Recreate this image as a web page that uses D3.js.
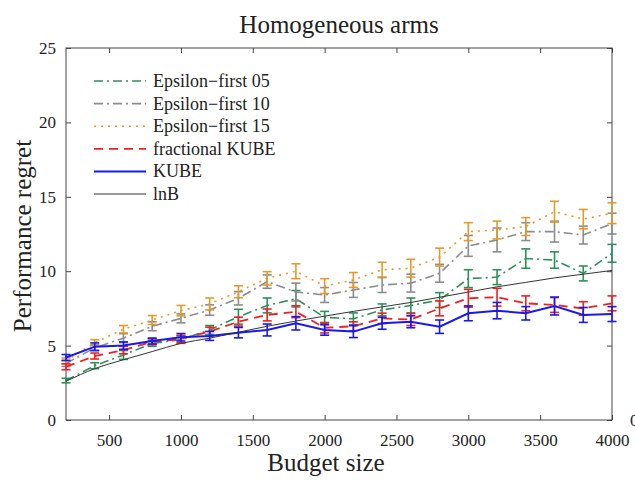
<!DOCTYPE html>
<html><head><meta charset="utf-8">
<script src="https://cdn.jsdelivr.net/npm/d3@7/dist/d3.min.js"></script>
<style>body{margin:0;background:#fff;overflow:hidden}svg{display:block}</style>
</head><body>
<svg id="chart" width="635" height="483"></svg>
<script>
const budget = [200,400,600,800,1000,1200,1400,1600,1800,2000,2200,2400,2600,2800,3000,3200,3400,3600,3800,4000];
const eps05 = [2.65,3.65,4.37,5.15,5.4,6.05,6.94,7.7,8.15,6.9,6.8,7.4,7.7,8.06,9.5,9.6,10.85,10.75,9.85,11.2];
const eps10 = [3.8,4.85,5.5,6.3,6.83,7.39,8.18,9.3,8.6,8.4,8.74,9.07,9.2,9.86,11.7,12.1,12.66,12.66,12.43,13.2];
const eps15 = [3.97,5.2,6.1,6.72,7.35,7.8,8.62,9.52,10.0,9.0,9.41,10.1,10.2,10.95,12.66,12.77,13.0,14.0,13.5,13.9];
const fracKube = [3.58,4.3,4.7,5.26,5.44,5.94,6.61,7.06,7.28,6.2,6.3,6.83,6.75,7.5,8.18,8.25,7.84,7.73,7.5,7.84];
const kube = [4.2,4.93,5.0,5.31,5.56,5.65,5.87,6.05,6.5,6.05,5.94,6.5,6.6,6.27,7.17,7.35,7.17,7.66,7.06,7.12];
const lnB = [2.6,3.45,4.05,4.6,5.15,5.5,5.9,6.3,6.65,6.98,7.3,7.6,7.9,8.25,8.6,8.95,9.25,9.55,9.8,10.05];
const err05 = [0.15,0.2,0.3,0.2,0.25,0.3,0.5,0.5,0.55,0.4,0.4,0.4,0.5,0.5,0.6,0.5,0.65,0.55,0.5,0.6];
const err10 = [0.2,0.2,0.3,0.3,0.3,0.35,0.45,0.45,0.6,0.5,0.5,0.5,0.6,0.6,0.7,0.8,0.6,0.7,0.6,0.7];
const err15 = [0.2,0.2,0.25,0.3,0.35,0.4,0.4,0.45,0.5,0.5,0.5,0.5,0.6,0.6,0.6,0.6,0.6,0.7,0.65,0.7];
const errFrac = [0.2,0.2,0.25,0.2,0.25,0.3,0.3,0.4,0.4,0.35,0.3,0.35,0.4,0.5,0.6,0.6,0.5,0.5,0.45,0.5];
const errKube = [0.2,0.25,0.25,0.2,0.25,0.3,0.35,0.4,0.45,0.35,0.4,0.4,0.4,0.45,0.5,0.55,0.45,0.6,0.5,0.5];
const xTicks = [500,1000,1500,2000,2500,3000,3500,4000];
const yTicks = [0,5,10,15,20,25];
const seriesNames = ["Epsilon\u2212first 05","Epsilon\u2212first 10","Epsilon\u2212first 15","fractional KUBE","KUBE","lnB"];

const series = [
  {name: seriesNames[0], values: eps05, err: err05, color: "#2f8f5f", width: 1.6, dash: "9,4,2,4"},
  {name: seriesNames[1], values: eps10, err: err10, color: "#8c8c8c", width: 1.6, dash: "9,4,2,4"},
  {name: seriesNames[2], values: eps15, err: err15, color: "#e29a2a", width: 1.6, dash: "2,5"},
  {name: seriesNames[3], values: fracKube, err: errFrac, color: "#ee2020", width: 1.8, dash: "9,6"},
  {name: seriesNames[4], values: kube, err: errKube, color: "#1818f0", width: 2, dash: null},
  {name: seriesNames[5], values: lnB, err: null, color: "#333333", width: 1, dash: null}
];

const svg = d3.select("#chart");
const L = 66, R = 612, T = 48, B = 420;
const x = d3.scaleLinear().domain([200,4000]).range([L,R]);
const y = d3.scaleLinear().domain([0,25]).range([B,T]);
const font = "'Liberation Serif','Times New Roman',serif";
const axisColor = "#444";

// Frame
svg.append("rect").attr("x",L).attr("y",T).attr("width",R-L).attr("height",B-T)
  .attr("fill","none").attr("stroke",axisColor).attr("stroke-width",1);

// Axes (ticks inside)
const gx = svg.append("g").attr("transform",`translate(0,${B})`)
  .call(d3.axisBottom(x).tickValues(xTicks).tickSizeInner(-5).tickSizeOuter(0).tickPadding(14).tickFormat(d3.format("d")));
const gxt = svg.append("g").attr("transform",`translate(0,${T})`)
  .call(d3.axisTop(x).tickValues(xTicks).tickSizeInner(-5).tickSizeOuter(0).tickFormat(""));
const gy = svg.append("g").attr("transform",`translate(${L},0)`)
  .call(d3.axisLeft(y).tickValues(yTicks).tickSizeInner(-5).tickSizeOuter(0).tickPadding(10).tickFormat(d3.format("d")));
const gyr = svg.append("g").attr("transform",`translate(${R},0)`)
  .call(d3.axisRight(y).tickValues(yTicks).tickSizeInner(-5).tickSizeOuter(0).tickFormat(""));
[gx,gxt,gy,gyr].forEach(g=>{
  g.select(".domain").remove();
  g.selectAll(".tick line").attr("stroke",axisColor);
  g.selectAll("text").attr("font-family",font).attr("font-size",17).attr("fill","#222");
});

// Lines
const line = d3.line().x((d,i)=>x(budget[i])).y(d=>y(d));
const smooth = d3.line().x((d,i)=>x(budget[i])).y(d=>y(d)).curve(d3.curveMonotoneX);
series.forEach(s=>{
  svg.append("path").datum(s.values)
    .attr("d", s.err ? line : smooth)
    .attr("fill","none").attr("stroke",s.color).attr("stroke-width",s.width)
    .attr("stroke-dasharray", s.dash);
  if (s.err) {
    const g = svg.append("g").attr("stroke",s.color).attr("stroke-width",1.6).attr("fill","none");
    s.values.forEach((v,i)=>{
      const cx = x(budget[i]), y0 = y(v - s.err[i]), y1 = y(v + s.err[i]);
      g.append("line").attr("x1",cx).attr("x2",cx).attr("y1",y0).attr("y2",y1);
      g.append("line").attr("x1",cx-4.5).attr("x2",cx+4.5).attr("y1",y0).attr("y2",y0);
      g.append("line").attr("x1",cx-4.5).attr("x2",cx+4.5).attr("y1",y1).attr("y2",y1);
    });
  }
});

// Legend
const leg = svg.append("g");
series.forEach((s,i)=>{
  const ly = 81 + i*22.6;
  leg.append("line").attr("x1",94).attr("x2",146).attr("y1",ly).attr("y2",ly)
    .attr("stroke",s.color).attr("stroke-width",s.width)
    .attr("stroke-dasharray", s.dash);
  leg.append("text").attr("x",153).attr("y",ly+6).text(s.name)
    .attr("font-family",font).attr("font-size",18).attr("fill","#222");
});

// Titles
svg.append("text").attr("x",339).attr("y",33).attr("text-anchor","middle")
  .attr("font-family",font).attr("font-size",25).attr("fill","#222").text("Homogeneous arms");
svg.append("text").attr("x",326).attr("y",471).attr("text-anchor","middle")
  .attr("font-family",font).attr("font-size",25).attr("fill","#222").text("Budget size");
svg.append("text").attr("transform","translate(31,236) rotate(-90)").attr("text-anchor","middle")
  .attr("font-family",font).attr("font-size",25).attr("fill","#222").text("Performance regret");
// clipped neighbouring label at the right edge
svg.append("text").attr("x",630).attr("y",426)
  .attr("font-family",font).attr("font-size",17).attr("fill","#222").text("0");
</script>
</body></html>
